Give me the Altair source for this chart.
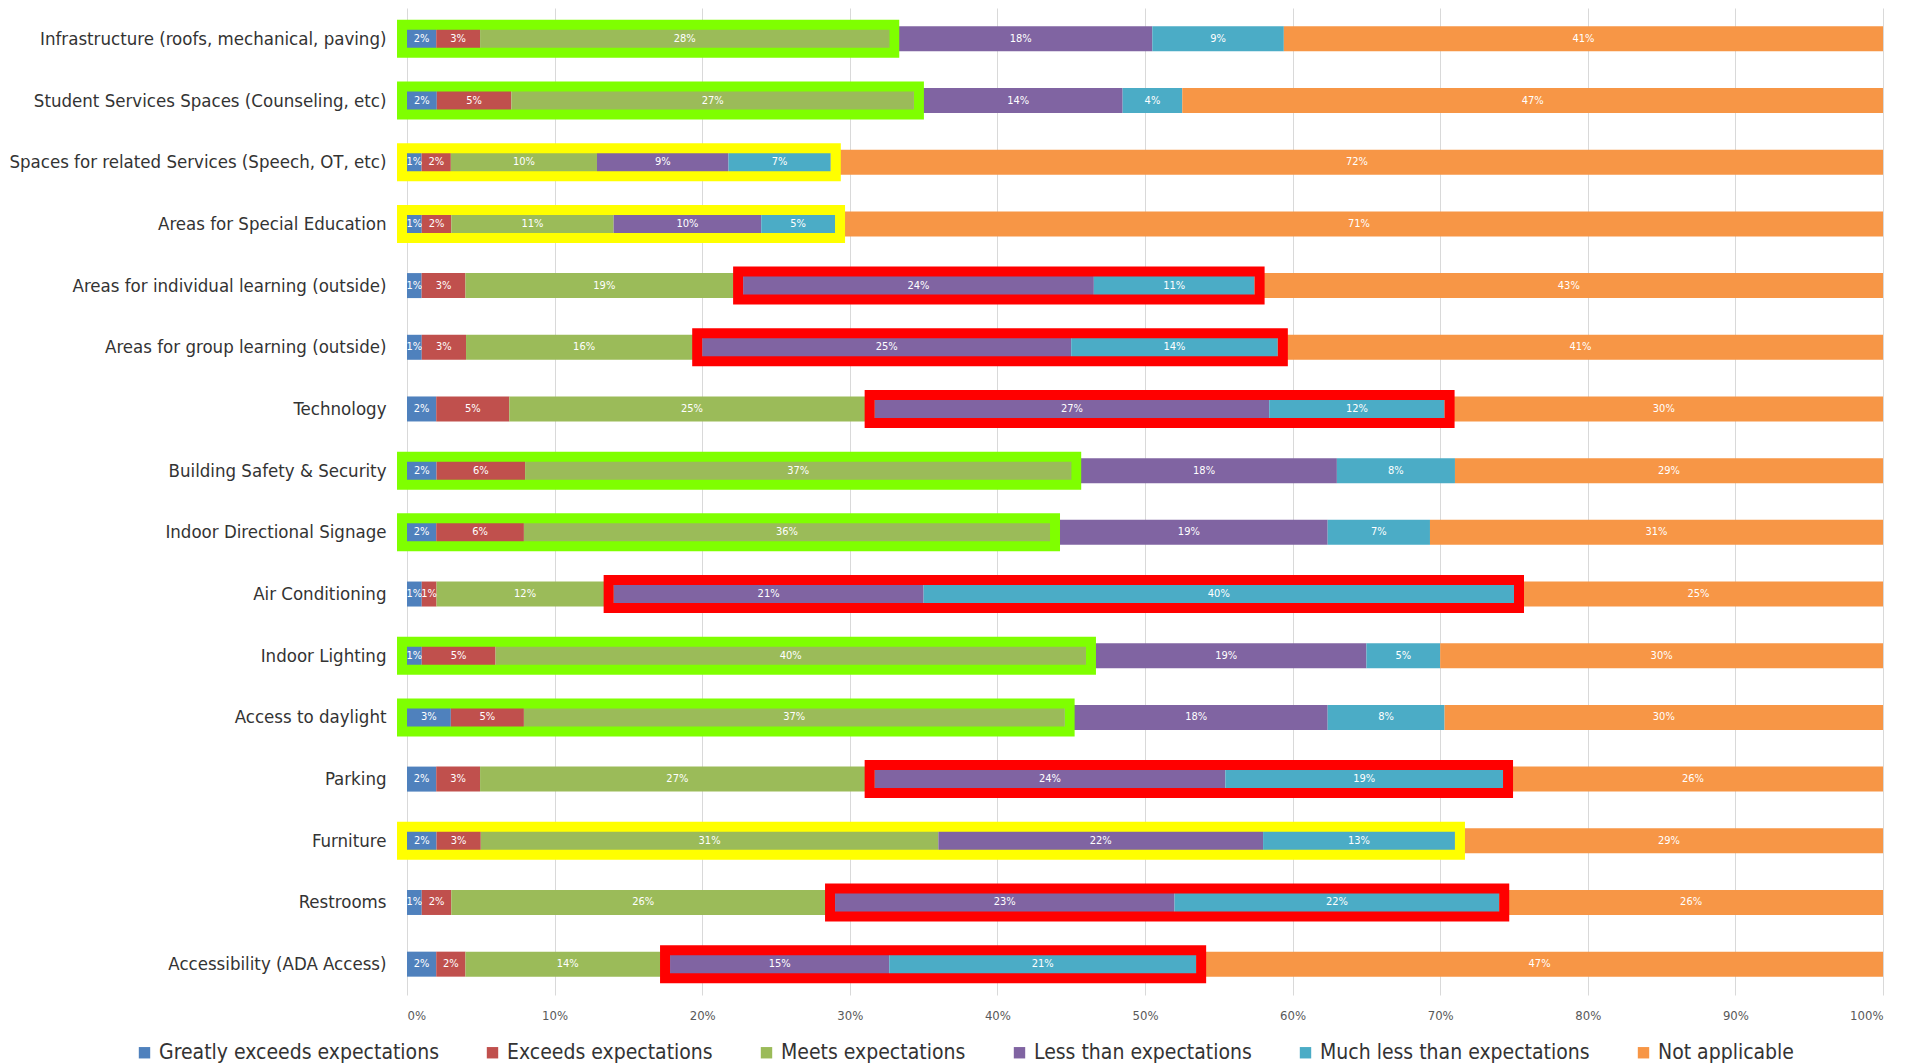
import altair as alt
import pandas as pd

categories = [
    "Infrastructure (roofs, mechanical, paving)",
    "Student Services Spaces (Counseling, etc)",
    "Spaces for related Services (Speech, OT, etc)",
    "Areas for Special Education",
    "Areas for individual learning (outside)",
    "Areas for group learning (outside)",
    "Technology",
    "Building Safety & Security",
    "Indoor Directional Signage",
    "Air Conditioning",
    "Indoor Lighting",
    "Access to daylight",
    "Parking",
    "Furniture",
    "Restrooms",
    "Accessibility (ADA Access)",
]
series = [
    "Greatly exceeds expectations",
    "Exceeds expectations",
    "Meets expectations",
    "Less than expectations",
    "Much less than expectations",
    "Not applicable",
]
colors = ["#4F81BD", "#C0504D", "#9BBB59", "#8064A2", "#4BACC6", "#F79646"]

greatly = [2, 2, 1, 1, 1, 1, 2, 2, 2, 1, 1, 3, 2, 2, 1, 2]
exceeds = [3, 5, 2, 2, 3, 3, 5, 6, 6, 1, 5, 5, 3, 3, 2, 2]
meets = [28, 27, 10, 11, 19, 16, 25, 37, 36, 12, 40, 37, 27, 31, 26, 14]
less = [18, 14, 9, 10, 24, 25, 27, 18, 19, 21, 19, 18, 24, 22, 23, 15]
much_less = [9, 4, 7, 5, 11, 14, 12, 8, 7, 40, 5, 8, 19, 13, 22, 21]
not_applicable = [41, 47, 72, 71, 43, 41, 30, 29, 31, 25, 30, 30, 26, 29, 26, 47]

highlight = ["green", "green", "yellow", "yellow", "red", "red", "red", "green",
             "green", "red", "green", "green", "red", "yellow", "red", "red"]
highlight_span = {"green": (0, 2), "yellow": (0, 4), "red": (3, 4)}
highlight_color = {"green": "#7FFF00", "yellow": "#FFFF00", "red": "#FF0000"}

FONT = "Liberation Sans Narrow, DejaVu Sans Condensed, sans-serif"

value_cols = [greatly, exceeds, meets, less, much_less, not_applicable]
rows = []
boxes = []
for i, cat in enumerate(categories):
    vals = [col[i] for col in value_cols]
    total = float(sum(vals))
    starts, ends = [], []
    acc = 0.0
    for j, v in enumerate(vals):
        s = acc / total
        acc += v
        e = acc / total
        starts.append(s)
        ends.append(e)
        rows.append({"category": cat, "series": series[j], "order": j,
                     "start": s, "end": e, "mid": (s + e) / 2, "label": f"{v}%"})
    a, b = highlight_span[highlight[i]]
    boxes.append({"category": cat, "hl": highlight[i], "start": starts[a], "end": ends[b]})

df = pd.DataFrame(rows)
box_df = pd.DataFrame(boxes)

y_enc = alt.Y("category:N", sort=categories,
              scale=alt.Scale(paddingInner=0, paddingOuter=0),
              axis=alt.Axis(title=None, labelFont=FONT, labelFontSize=18.5,
                            labelColor="#333333", labelPadding=21, ticks=False,
                            domain=False, labelLimit=500))

x_scale = alt.Scale(domain=[0, 1], nice=False)

bars = alt.Chart(df).mark_bar(size=25).encode(
    x=alt.X("start:Q", scale=x_scale,
            axis=alt.Axis(title=None, format=".0%", values=[i / 10 for i in range(11)],
                          grid=True, gridColor="#D9D9D9", ticks=False, domain=False,
                          labelFont=FONT, labelFontSize=13, labelColor="#595959",
                          labelPadding=14)),
    x2="end:Q",
    y=y_enc,
    color=alt.Color("series:N", sort=series,
                    scale=alt.Scale(domain=series, range=colors),
                    legend=alt.Legend(title=None, orient="none", direction="horizontal",
                                      legendX=-273, legendY=1034,
                                      labelFont=FONT, labelFontSize=21,
                                      labelColor="#333333", symbolType="square",
                                      symbolSize=130, symbolStrokeWidth=0,
                                      labelOffset=4, columnPadding=43,
                                      labelLimit=600)),
    order=alt.Order("order:Q"),
)

text = alt.Chart(df).mark_text(color="white", font=FONT, fontSize=11).encode(
    x=alt.X("mid:Q", scale=x_scale),
    y=y_enc,
    text="label:N",
)

layers = [bars, text]
for key in ["green", "yellow", "red"]:
    sub = box_df[box_df["hl"] == key]
    layers.append(
        alt.Chart(sub).mark_bar(size=28, fillOpacity=0, stroke=highlight_color[key],
                                strokeWidth=10, xOffset=-5, x2Offset=5).encode(
            x=alt.X("start:Q", scale=x_scale),
            x2="end:Q",
            y=y_enc,
        )
    )

chart = alt.layer(*layers).properties(
    width=1476, height=987,
    padding={"left": 0, "top": 0, "right": 5, "bottom": 0},
).configure_view(stroke=None)

chart.save("out.html", embed_options={"renderer": "svg", "actions": False})
